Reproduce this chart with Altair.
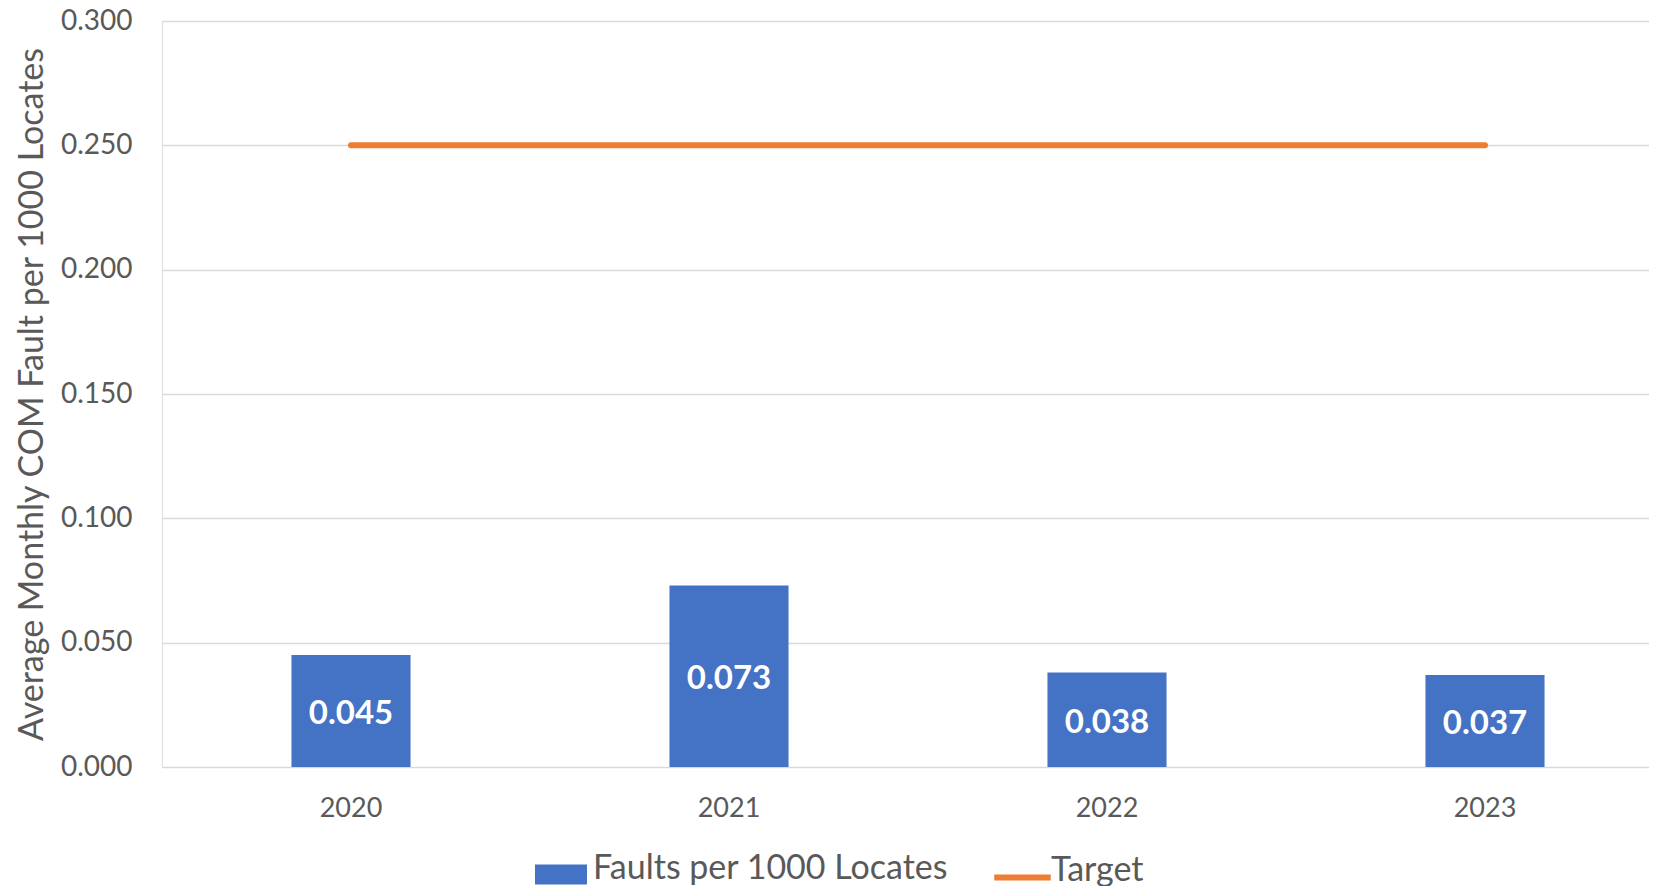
import altair as alt
import pandas as pd

years = ["2020", "2021", "2022", "2023"]
faults = [0.045, 0.073, 0.038, 0.037]
target = [0.25, 0.25, 0.25, 0.25]
bar_series = "Faults per 1000 Locates"
line_series = "Target"
y_ticks = [0.0, 0.05, 0.10, 0.15, 0.20, 0.25, 0.30]
y_title = "Average Monthly COM Fault per 1000 Locates"

df = pd.DataFrame({
    "year": years,
    "faults": faults,
    "target": target,
    "bar_series": [bar_series] * len(years),
    "line_series": [line_series] * len(years),
})
df["half"] = df["faults"] / 2

FONT = "Lato"
GREY = "#595959"
BLUE = "#4472C4"
ORANGE = "#ED7D31"

x_scale = alt.Scale(domain=years, range=[0, 1512], paddingInner=0.685, paddingOuter=0.3425)
x_axis = alt.Axis(title=None, labelAngle=0, labelFont=FONT, labelFontSize=27,
                  labelColor=GREY, labelPadding=28, ticks=False, domain=False, grid=False)
x_enc = alt.X("year:N", scale=x_scale, axis=x_axis)

y_scale = alt.Scale(domain=[0, 0.3], nice=False, zero=True)
y_axis = alt.Axis(values=y_ticks, format=".3f", title=y_title,
                  titleFont=FONT, titleFontSize=34, titleColor=GREY, titleFontWeight="normal",
                  titleAngle=-90, titleX=-120, titleY=373, titleAlign="center",
                  titleBaseline="alphabetic",
                  labelFont=FONT, labelFontSize=28, labelColor=GREY, labelPadding=30,
                  ticks=False, domain=False, gridColor="#D9D9D9", gridWidth=1.5)

bars = alt.Chart(df).mark_bar().encode(
    x=x_enc,
    y=alt.Y("faults:Q", scale=y_scale, axis=y_axis),
    fill=alt.Fill("bar_series:N", scale=alt.Scale(domain=[bar_series], range=[BLUE]),
                  legend=alt.Legend(title=None, orient="none", legendX=373, legendY=822,
                                    symbolType="M-1,-0.175H1V0.595H-1Z", symbolSize=2704,
                                    symbolStrokeWidth=0, labelFont=FONT, labelFontSize=34,
                                    labelColor=GREY, labelOffset=6, labelLimit=0, padding=0)),
)

line = alt.Chart(df).mark_line(strokeWidth=6, strokeCap="round").encode(
    x=x_enc,
    y=alt.Y("target:Q", scale=y_scale),
    stroke=alt.Stroke("line_series:N", scale=alt.Scale(domain=[line_series], range=[ORANGE]),
                      legend=alt.Legend(title=None, orient="none", legendX=826, legendY=818,
                                        symbolType="M-0.894,0.25L1.106,0.25", symbolSize=3190,
                                        symbolStrokeWidth=6, labelFont=FONT, labelFontSize=34,
                                        labelColor=GREY, labelOffset=0, labelLimit=0, padding=0)),
)

labels = alt.Chart(df).mark_text(font=FONT, fontSize=33, fontWeight="bold", color="white",
                                 baseline="middle", dy=3).encode(
    x=x_enc,
    y=alt.Y("half:Q", scale=y_scale),
    text=alt.Text("faults:Q", format=".3f"),
)

chart = alt.layer(bars, line, labels).properties(
    width=1487, height=746,
    autosize=alt.AutoSizeParams(type="none"),
    padding={"left": 154, "top": 13, "right": 0, "bottom": 119},
).configure_view(stroke=None).configure(background="white")

chart.save("out.html", embed_options={"renderer": "svg", "actions": False})
